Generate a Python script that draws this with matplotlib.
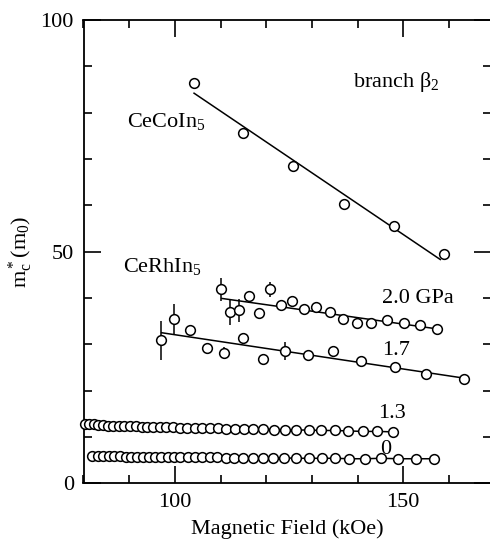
import matplotlib

matplotlib.use("Agg")
import matplotlib.pyplot as plt
from matplotlib.ticker import MultipleLocator

plt.rcParams["font.family"] = ["Liberation Serif", "DejaVu Serif"]
plt.rcParams["mathtext.fontset"] = "custom"
plt.rcParams["mathtext.rm"] = "Liberation Serif"
plt.rcParams["mathtext.it"] = "Liberation Serif"
plt.rcParams["font.size"] = 16

# CeCoIn5, branch beta2
co_field = [104.2, 114.9, 125.9, 137.0, 148.0, 158.9]
co_mass = [86.3, 75.7, 68.5, 60.3, 55.6, 49.6]
co_fit_field = [104.2, 158.1]
co_fit_mass = [84.2, 48.3]

# CeRhIn5, 2.0 GPa
p20_field = [110.0, 112.1, 114.1, 116.3, 118.4, 120.9, 123.2, 125.7, 128.3,
             131.0, 134.0, 136.8, 139.8, 142.9, 146.5, 150.2, 153.7, 157.3]
p20_mass = [41.9, 36.9, 37.3, 40.5, 36.7, 41.9, 38.4, 39.4, 37.6,
            38.0, 36.9, 35.5, 34.7, 34.5, 35.2, 34.7, 34.2, 33.3]
p20_err = [2.5, 2.8, 2.4, 1.0, 0, 1.6, 0, 0, 0,
           0, 0, 0, 0, 0, 0, 0, 0, 0]
p20_fit_field = [110.3, 157.6]
p20_fit_mass = [39.9, 33.3]

# CeRhIn5, 1.7 GPa
p17_field = [96.9, 99.9, 103.3, 107.0, 110.8, 114.9, 119.2, 124.1, 129.2,
             134.6, 140.8, 148.1, 155.0, 163.2]
p17_mass = [30.9, 35.4, 33.1, 29.1, 28.2, 31.4, 26.8, 28.6, 27.8,
            28.6, 26.5, 25.0, 23.6, 22.5]
p17_err = [4.2, 3.4, 0, 0, 1.3, 0, 0, 2.0, 0,
           0, 0, 0, 0, 0]
p17_fit_field = [97.1, 163.3]
p17_fit_mass = [32.5, 22.7]

# CeRhIn5, 1.3 GPa
p13_field = [80.3, 81.2, 82.2, 83.2, 84.3, 85.4, 86.5, 87.7, 88.9, 90.1,
             91.4, 92.7, 94.0, 95.3, 96.7, 98.1, 99.6, 101.1, 102.7, 104.3,
             106.0, 107.7, 109.5, 111.3, 113.2, 115.2, 117.2, 119.4, 121.6, 124.0,
             126.5, 129.3, 132.0, 135.0, 138.0, 141.1, 144.3, 147.8]
p13_mass = [12.9, 12.8, 12.7, 12.6, 12.5, 12.4, 12.4, 12.4, 12.3, 12.3,
            12.3, 12.2, 12.2, 12.2, 12.1, 12.1, 12.1, 12.0, 12.0, 12.0,
            11.9, 11.9, 11.9, 11.8, 11.8, 11.8, 11.7, 11.7, 11.6, 11.6,
            11.5, 11.5, 11.4, 11.4, 11.3, 11.2, 11.2, 11.1]

# CeRhIn5, 0 GPa
p0_field = [81.9, 83.1, 84.3, 85.5, 86.7, 87.9, 89.2, 90.4, 91.7, 93.0,
            94.3, 95.6, 97.0, 98.4, 99.8, 101.2, 102.8, 104.3, 105.9, 107.6,
            109.3, 111.1, 113.0, 114.9, 117.0, 119.2, 121.5, 123.9, 126.5, 129.3,
            132.1, 135.1, 138.2, 141.6, 145.1, 148.9, 152.8, 156.7]
p0_mass = [5.8, 5.8, 5.8, 5.8, 5.8, 5.8, 5.7, 5.7, 5.7, 5.7,
           5.7, 5.7, 5.7, 5.6, 5.6, 5.6, 5.6, 5.6, 5.6, 5.6,
           5.6, 5.5, 5.5, 5.5, 5.5, 5.5, 5.5, 5.5, 5.4, 5.4,
           5.4, 5.4, 5.3, 5.3, 5.4, 5.3, 5.3, 5.3]

fig = plt.figure(figsize=(4.9, 5.5), dpi=100)
ax = fig.add_axes([83.5 / 490, 66.7 / 550, 407.5 / 490, 463.3 / 550])

mk = dict(marker="o", ms=7, mfc="white", mec="black", mew=1.1)

# fitted lines
for fx, fy in [(co_fit_field, co_fit_mass), (p20_fit_field, p20_fit_mass),
               (p17_fit_field, p17_fit_mass)]:
    ax.plot(fx, fy, color="black", lw=1.1, zorder=2)

ax.plot(co_field, co_mass, ls="none", zorder=3, **mk)
ax.errorbar(p20_field, p20_mass, yerr=p20_err, fmt="none", ecolor="black",
            elinewidth=1.1, capsize=0, zorder=2)
ax.plot(p20_field, p20_mass, ls="none", zorder=3, **mk)
ax.errorbar(p17_field, p17_mass, yerr=p17_err, fmt="none", ecolor="black",
            elinewidth=1.1, capsize=0, zorder=2)
ax.plot(p17_field, p17_mass, ls="none", zorder=3, **mk)
ax.plot(p13_field, p13_mass, color="black", lw=1.1, zorder=3, clip_on=False, **mk)
ax.plot(p0_field, p0_mass, color="black", lw=1.1, zorder=3, **mk)

# labels inside the plot
ax.text(139.0, 85.5, r"branch β$_2$", va="baseline")
ax.text(89.5, 77.0, r"CeCoIn$_5$", va="baseline")
ax.text(88.7, 45.7, r"CeRhIn$_5$", va="baseline")
ax.text(145.3, 38.9, "2.0 GPa", va="baseline")
ax.text(145.3, 27.7, "1.7", va="baseline")
ax.text(144.5, 14.0, "1.3", va="baseline")
ax.text(144.9, 6.3, "0", va="baseline", zorder=4)

ax.set_xlim(80, 169.2)
ax.set_ylim(0, 100)
ax.xaxis.set_major_locator(MultipleLocator(50))
ax.xaxis.set_minor_locator(MultipleLocator(10))
ax.yaxis.set_major_locator(MultipleLocator(50))
ax.yaxis.set_minor_locator(MultipleLocator(10))
ax.tick_params(which="both", direction="in", top=True, right=True, width=1.2)
ax.tick_params(which="major", length=12, pad=7, labelsize=16)
ax.tick_params(which="minor", length=6)
for s in ax.spines.values():
    s.set_linewidth(1.3)

ax.set_xlabel("Magnetic Field (kOe)", fontsize=16, labelpad=5)
ax.set_ylabel(r"m$_c^*$(m$_0$)", fontsize=16, labelpad=4)

fig.savefig("out.png", dpi=100)
